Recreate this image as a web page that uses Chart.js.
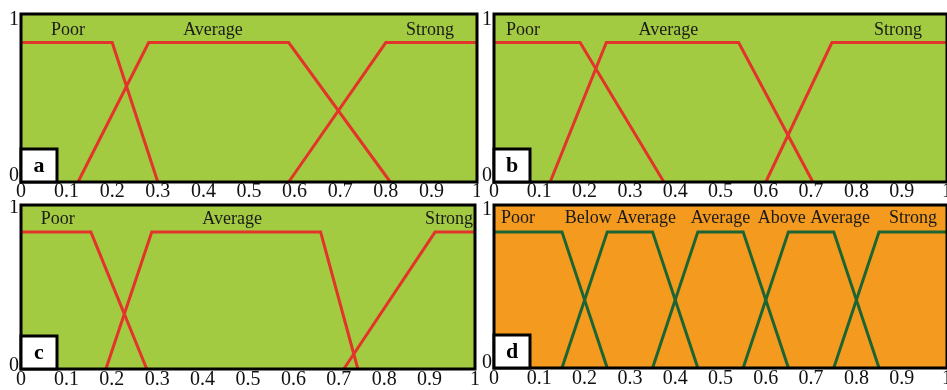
<!DOCTYPE html>
<html>
<head>
<meta charset="utf-8">
<script src="https://cdn.jsdelivr.net/npm/chart.js@4.4.1/dist/chart.umd.min.js"></script>
<style>
  html, body { margin: 0; padding: 0; background: #ffffff; }
  body { width: 947px; height: 390px; position: relative; overflow: hidden; }
  .pane { position: absolute; }
</style>
</head>
<body>
<div class="pane" style="left:0px;top:0px;width:480px;height:202px;"><canvas id="ca"></canvas></div>
<div class="pane" style="left:474px;top:0px;width:473px;height:202px;"><canvas id="cb"></canvas></div>
<div class="pane" style="left:0px;top:200px;width:480px;height:190px;"><canvas id="cc"></canvas></div>
<div class="pane" style="left:474px;top:200px;width:473px;height:190px;"><canvas id="cd"></canvas></div>
<script>
// ---------- tick labels ----------
const xTickValues = [0, 0.1, 0.2, 0.3, 0.4, 0.5, 0.6, 0.7, 0.8, 0.9, 1];
const yTickValues = [0, 1];

// ---------- panel a ----------
const aPoorX = [0, 0.2, 0.3];
const aPoorY = [0.83, 0.83, 0];
const aAverageX = [0.125, 0.28, 0.587, 0.81];
const aAverageY = [0, 0.83, 0.83, 0];
const aStrongX = [0.587, 0.8, 1];
const aStrongY = [0, 0.83, 0.83];

// ---------- panel b ----------
const bPoorX = [0, 0.19, 0.375];
const bPoorY = [0.83, 0.83, 0];
const bAverageX = [0.124, 0.248, 0.54, 0.704];
const bAverageY = [0, 0.83, 0.83, 0];
const bStrongX = [0.6, 0.746, 1];
const bStrongY = [0, 0.83, 0.83];

// ---------- panel c ----------
const cPoorX = [0, 0.154, 0.277];
const cPoorY = [0.835, 0.835, 0];
const cAverageX = [0.187, 0.288, 0.66, 0.742];
const cAverageY = [0, 0.835, 0.835, 0];
const cStrongX = [0.711, 0.912, 1];
const cStrongY = [0, 0.835, 0.835];

// ---------- panel d ----------
const dPoorX = [0, 0.15, 0.25];
const dPoorY = [0.835, 0.835, 0];
const dBelowX = [0.15, 0.25, 0.35, 0.45];
const dBelowY = [0, 0.835, 0.835, 0];
const dAverageX = [0.35, 0.45, 0.55, 0.65];
const dAverageY = [0, 0.835, 0.835, 0];
const dAboveX = [0.55, 0.65, 0.75, 0.85];
const dAboveY = [0, 0.835, 0.835, 0];
const dStrongX = [0.75, 0.85, 1];
const dStrongY = [0, 0.835, 0.835];

// ---------- category labels ----------
const abcLabels = ['Poor', 'Average', 'Strong'];
const dLabels = ['Poor', 'Below Average', 'Average', 'Above Average', 'Strong'];
const aLabelAt = [0.103, 0.421, 0.897];
const bLabelAt = [0.064, 0.385, 0.892];
const cLabelAt = [0.081, 0.465, 0.943];
const dLabelAt = [0.053, 0.279, 0.5, 0.706, 0.925];

const SERIF = '"Liberation Serif", "DejaVu Serif", serif';
const GREEN_BG = '#A3CB41';
const ORANGE_BG = '#F39A1F';
const RED = '#E3342B';
const DKGREEN = '#1C6532';

function pts(xs, ys) { return xs.map((x, i) => ({ x: x, y: ys[i] })); }

function makePanel(id, cfg) {
  const panelPlugin = {
    id: 'panelDeco_' + id,
    beforeDatasetsDraw(chart) {
      const { ctx, chartArea: a } = chart;
      ctx.save();
      ctx.fillStyle = cfg.bg;
      ctx.fillRect(a.left, a.top, a.right - a.left, a.bottom - a.top);
      ctx.restore();
    },
    afterDatasetsDraw(chart) {
      const { ctx, chartArea: a, scales } = chart;
      ctx.save();
      // category names
      ctx.fillStyle = '#1a1a1a';
      ctx.font = '18px ' + SERIF;
      ctx.textAlign = 'center';
      ctx.textBaseline = 'middle';
      cfg.labels.forEach((t, i) => {
        ctx.fillText(t, scales.x.getPixelForValue(cfg.labelAt[i]), a.top + cfg.labelDy);
      });
      // frame
      ctx.strokeStyle = '#000';
      ctx.lineWidth = 3;
      ctx.strokeRect(a.left, a.top, a.right - a.left, a.bottom - a.top);
      // letter box
      const bw = 36, bh = 33;
      ctx.fillStyle = '#fff';
      ctx.fillRect(a.left, a.bottom - bh, bw, bh);
      ctx.strokeRect(a.left, a.bottom - bh, bw, bh);
      ctx.fillStyle = '#000';
      ctx.font = 'bold 22px ' + SERIF;
      ctx.fillText(cfg.letter, a.left + bw / 2, a.bottom - bh / 2 + 1);
      ctx.restore();
    }
  };

  const lh = (2 * cfg.yOff) / 20;

  new Chart(document.getElementById(id), {
    type: 'line',
    data: {
      datasets: cfg.series.map(s => ({
        data: pts(s[0], s[1]),
        borderColor: cfg.line,
        borderWidth: 3,
        pointRadius: 0,
        fill: false,
        tension: 0,
        clip: false
      }))
    },
    options: {
      responsive: true,
      maintainAspectRatio: false,
      animation: false,
      events: [],
      layout: { autoPadding: false, padding: cfg.pad },
      plugins: { legend: { display: false }, tooltip: { enabled: false }, title: { display: false } },
      scales: {
        x: {
          type: 'linear', min: 0, max: 1,
          afterBuildTicks(scale) { scale.ticks = xTickValues.map(v => ({ value: v })); },
          afterFit(scale) { scale.height = cfg.xh; scale.paddingLeft = 0; scale.paddingRight = 0; },
          grid: { display: false, drawTicks: false },
          border: { display: false },
          ticks: {
            autoSkip: false, maxRotation: 0, padding: cfg.xpad, color: '#111',
            font: { family: SERIF, size: 20 },
            callback: v => String(v)
          }
        },
        y: {
          type: 'linear', min: 0, max: 1,
          afterBuildTicks(scale) { scale.ticks = yTickValues.map(v => ({ value: v })); },
          afterFit(scale) { scale.width = cfg.yw; scale.paddingTop = 0; scale.paddingBottom = 0; },
          grid: { display: false, drawTicks: false },
          border: { display: false },
          ticks: {
            padding: 2, color: '#111',
            font: { family: SERIF, size: 20, lineHeight: lh },
            // label nudged inward: top label one half-line down, bottom label one half-line up
            callback: v => (v >= 1 ? ['', String(v)] : [String(v), ''])
          }
        }
      }
    },
    plugins: [panelPlugin]
  });
}

makePanel('ca', {
  bg: GREEN_BG, line: RED, letter: 'a', labels: abcLabels, labelAt: aLabelAt, labelDy: 16,
  pad: { top: 14, right: 3, left: 0, bottom: 0 }, xh: 20, yw: 21, xpad: -2, yOff: 6,
  series: [[aPoorX, aPoorY], [aAverageX, aAverageY], [aStrongX, aStrongY]]
});
makePanel('cb', {
  bg: GREEN_BG, line: RED, letter: 'b', labels: abcLabels, labelAt: bLabelAt, labelDy: 16,
  pad: { top: 14, right: 0, left: 0, bottom: 0 }, xh: 20, yw: 20, xpad: -2, yOff: 6,
  series: [[bPoorX, bPoorY], [bAverageX, bAverageY], [bStrongX, bStrongY]]
});
makePanel('cc', {
  bg: GREEN_BG, line: RED, letter: 'c', labels: abcLabels, labelAt: cLabelAt, labelDy: 14,
  pad: { top: 5, right: 5, left: 0, bottom: 0 }, xh: 21, yw: 21, xpad: -1, yOff: 3,
  series: [[cPoorX, cPoorY], [cAverageX, cAverageY], [cStrongX, cStrongY]]
});
makePanel('cd', {
  bg: ORANGE_BG, line: DKGREEN, letter: 'd', labels: dLabels, labelAt: dLabelAt, labelDy: 13,
  pad: { top: 5, right: 0, left: 0, bottom: 0 }, xh: 22, yw: 20, xpad: -1, yOff: 5,
  series: [[dPoorX, dPoorY], [dBelowX, dBelowY], [dAverageX, dAverageY], [dAboveX, dAboveY], [dStrongX, dStrongY]]
});
</script>
</body>
</html>
